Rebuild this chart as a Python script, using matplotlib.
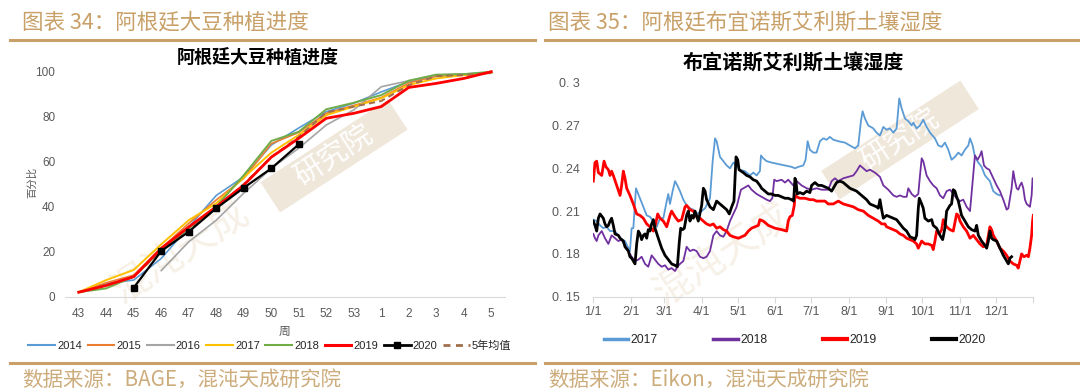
import numpy as np
import matplotlib
matplotlib.use("Agg")
import matplotlib.pyplot as plt
from matplotlib.lines import Line2D
from matplotlib.patches import Rectangle

plt.rcParams['font.family'] = ['Liberation Sans', 'Noto Sans CJK SC']

# ---------------- 左图：阿根廷大豆种植进度 (%) ----------------
weeks = ['43', '44', '45', '46', '47', '48', '49', '50', '51', '52', '53',
         '1', '2', '3', '4', '5']
nan = np.nan
p2014 = [2, 5.9, 7.4, 17, 31, 45, 53.3, 67.4, 75, 82.2, 86, 91, 95.6, 98, 99, 99.3]
p2015 = [2, 6.2, 9.6, 21.5, 32.6, 43, 52.6, 68, 73, 81.5, 85, 88.5, 95, 98, 98.5, 99.5]
p2016 = [nan, nan, nan, 11.6, 24.4, 34, 46, 57, 66, 76.3, 83, 93.3, 96, 98.5, 99, 99.5]
p2017 = [2, 7.4, 11.9, 23.3, 34, 41.5, 53, 64, 71.9, 80.7, 84.5, 88.2, 94.1, 97, 98.5, 99.5]
p2018 = [2, 3.7, 8.9, 20.7, 30.4, 40, 54, 69.2, 73.3, 83.3, 86.2, 89.6, 96, 98.7, 98.9, 100]
p2019 = [2, 5, 8.9, 21.5, 31, 40, 49.6, 62, 70.4, 79.3, 81.5, 84.5, 93, 94.8, 97, 100]
p2020 = [nan, nan, 4, 20.3, 28.9, 39.3, 48.4, 57, 67.7, nan, nan, nan, nan, nan, nan, nan]
p_avg = [2, 5.2, 8.9, 20.5, 29.5, 39.5, 50, 62, 71, 81.9, 84.5, 87, 94, 98, 98.5, 99.5]

# ---------------- 右图：布宜诺斯艾利斯土壤湿度 (day of year, value) ----------------
sm2017 = [(0, .204), (2.8, .203), (5.6, .200), (8.3, .198), (11.1, .199), (13.9, .196), (18, .196),
          (22.2, .191), (26.3, .189), (29.1, .184), (30.4, .182), (31.8, .198), (33.2, .198),
          (35.4, .226), (38.7, .219), (41.5, .213), (44.3, .207), (47, .206), (49.8, .203),
          (52.6, .199), (55.3, .205), (58.1, .205), (60.9, .217), (62.2, .222), (63.6, .215),
          (65.8, .224), (67.8, .231), (69.7, .228), (71.9, .224), (74.7, .218), (77.4, .214),
          (80.2, .212), (83, .211), (85.7, .208), (89.9, .210), (92.7, .212), (96.8, .219),
          (99, .245), (101, .261), (102.3, .259), (105.1, .248), (107.9, .245), (110.6, .242),
          (113.4, .240), (116.2, .244), (118.9, .242), (121.6, .239), (125.8, .238), (130, .235),
          (132.7, .237), (135.5, .235), (138.2, .238), (139.1, .249), (141, .247), (143.8, .245),
          (147.9, .244), (153.4, .243), (159, .242), (164.5, .241), (167.3, .240), (170, .241),
          (174.2, .242), (176.1, .246), (177.8, .259), (179.7, .253), (182.5, .251), (185.2, .251),
          (188, .259), (190.8, .261), (193.5, .260), (196.3, .262), (199.1, .260), (203.2, .259),
          (208.7, .258), (212.9, .256), (217, .254), (219.8, .256), (222, .273), (223.4, .280),
          (225.3, .275), (228.1, .270), (232.2, .268), (235, .265), (237.8, .263), (240.6, .269),
          (243.3, .267), (246.1, .268), (248.9, .265), (251.6, .268), (253.8, .289), (255.8, .282),
          (258.5, .275), (261.3, .273), (264.1, .270), (265.5, .272), (268.2, .268), (271, .270),
          (273.7, .274), (276.5, .269), (279.3, .265), (283.4, .261), (286.2, .256), (289, .255),
          (291.7, .258), (294.5, .253), (297.2, .246), (300, .248), (302.8, .251), (305.5, .249),
          (308.3, .253), (311.1, .256), (312.5, .261), (314.7, .256), (316.6, .248), (319.4, .244),
          (322.1, .241), (324.9, .235), (329, .231), (331.8, .224), (334.6, .222), (337.3, .221)]

sm2018 = [(0, .194), (1.4, .191), (2.8, .189), (4.2, .193), (7, .196), (9.7, .191), (12.5, .187),
          (15.2, .193), (18, .191), (20.8, .189), (23.5, .190), (26.3, .186), (29.1, .182),
          (31.8, .178), (34.6, .175), (37.4, .176), (40.1, .178), (42.9, .173), (45.6, .171),
          (48.4, .179), (51.2, .176), (53.9, .173), (56.7, .171), (59.5, .172), (62.2, .169),
          (65, .170), (67.8, .168), (69.7, .171), (71.9, .173), (74.7, .175), (77.4, .185),
          (80.2, .182), (83, .183), (85.7, .182), (88.5, .178), (91.3, .177), (94, .178),
          (96.8, .182), (99.6, .193), (102.3, .196), (105.1, .193), (107.9, .192), (110.6, .196),
          (113.4, .203), (116.2, .208), (118.9, .213), (122.5, .225), (128.6, .228), (131.3, .225),
          (135.5, .222), (139.6, .220), (143.8, .218), (146.5, .217), (148.5, .219), (150.1, .232),
          (152.1, .231), (156.2, .232), (159, .230), (161.7, .232), (165.9, .228), (168.7, .231),
          (172.8, .228), (177, .226), (181.1, .225), (185.2, .226), (189.4, .225), (194.9, .225),
          (197.7, .231), (200.5, .233), (203.2, .231), (207.4, .233), (211.5, .234), (215.7, .235),
          (218.4, .238), (221.2, .242), (224, .240), (226.7, .238), (229.5, .239), (233.6, .237),
          (237.8, .234), (240.6, .228), (244.7, .225), (248.9, .221), (251.6, .220), (254.4, .221),
          (257.2, .220), (259.9, .220), (261.3, .226), (264.1, .222), (266.8, .220), (269.6, .222),
          (271, .235), (272.4, .247), (273.7, .245), (276.5, .235), (279.3, .231), (282, .228),
          (284.8, .226), (287.6, .221), (290.3, .219), (293.1, .224), (295.9, .225), (298.6, .222),
          (301.4, .219), (304.2, .217), (306.9, .218), (309.7, .213), (312.5, .210), (314.7, .231),
          (316.6, .249), (318.8, .246), (320.8, .249), (322.1, .252), (324.1, .242), (326.3, .240),
          (328.5, .239), (331.8, .233), (334.6, .228), (337.3, .224), (340.1, .218), (342.9, .211),
          (344.3, .212), (347, .226), (348.4, .238), (349.8, .231), (351.2, .226), (352.5, .225),
          (353.9, .228), (355.3, .230), (356.7, .226), (358.1, .218), (359.5, .215), (362.2, .213),
          (363.6, .221), (364.4, .233), (365, .232)]

sm2019 = [(0, .231), (1.4, .244), (2.8, .245), (4.2, .237), (7, .235), (8.9, .245), (10.5, .241),
          (12.5, .239), (13.9, .235), (15.2, .238), (16.6, .235), (19.4, .228), (22.2, .221),
          (23.5, .228), (24.9, .238), (26.3, .233), (27.7, .226), (30.4, .221), (33.2, .215),
          (36, .208), (38.7, .207), (41.5, .205), (44.3, .201), (47, .199), (49.8, .196),
          (51.7, .201), (53.4, .208), (55.3, .205), (58.1, .203), (60.9, .199), (63.6, .207),
          (65, .210), (67.8, .206), (70.5, .203), (73.3, .204), (76.1, .213), (77.4, .214),
          (80.2, .211), (83, .210), (85.7, .206), (88.5, .205), (91.3, .203), (94, .201),
          (96.8, .200), (99.6, .201), (102.3, .198), (105.1, .199), (107.9, .197), (110.6, .196),
          (113.4, .193), (116.2, .192), (120.3, .191), (125.8, .193), (128.6, .196), (131.3, .198),
          (134.1, .199), (136.9, .200), (138.2, .204), (141, .203), (145.2, .200), (150.7, .198),
          (156.2, .197), (160.4, .196), (161.7, .203), (163.1, .206), (165.1, .207), (166.7, .214),
          (167.3, .221), (168.7, .220), (171.4, .219), (175.6, .219), (179.7, .218), (182.5, .218),
          (185.2, .217), (189.4, .217), (192.2, .217), (194.9, .215), (199.1, .215), (203.2, .217),
          (207.4, .215), (211.5, .214), (215.7, .213), (219.8, .211), (224, .210), (228.1, .207),
          (232.2, .205), (236.4, .203), (239.2, .201), (241.9, .201), (243.3, .199), (246.1, .198),
          (248.9, .197), (251.6, .196), (254.4, .194), (257.2, .193), (259.9, .191), (262.7, .190),
          (265.5, .189), (268.2, .187), (269.6, .184), (272.4, .189), (275.1, .187), (277.9, .187),
          (280.7, .186), (282, .183), (283.4, .189), (284.8, .196), (287, .194), (289, .197),
          (290.3, .204), (291.7, .201), (293.1, .199), (295.9, .197), (298.6, .196), (301.4, .208),
          (302.8, .207), (304.2, .203), (306.9, .199), (309.7, .196), (312.5, .191), (315.2, .193),
          (318, .190), (320.8, .187), (323.5, .185), (326.3, .186), (329, .199), (330.4, .197),
          (331.8, .193), (334.6, .189), (337.3, .184), (340.1, .182), (342.9, .179), (345.6, .175),
          (348.4, .173), (351.2, .172), (352.5, .170), (353.9, .175), (355.3, .180), (357.2, .178),
          (359.5, .179), (360.9, .178), (362.2, .184), (363.6, .193), (364.4, .203), (365, .207)]

sm2020 = [(0, .203), (1.4, .200), (2.8, .196), (4.2, .205), (5.6, .208), (8.3, .205), (9.7, .201),
          (11.1, .199), (12.5, .200), (13.9, .203), (15.2, .205), (16.6, .200), (18, .194),
          (20.8, .193), (22.2, .191), (24.9, .189), (26.3, .185), (29.1, .182), (30.4, .178),
          (31.8, .177), (33.2, .175), (34.6, .173), (36, .187), (37.4, .196), (38.7, .194),
          (40.1, .190), (41.5, .193), (42.9, .194), (44.3, .191), (45.6, .197), (47, .196),
          (48.4, .201), (49.8, .204), (51.2, .198), (53.9, .191), (56.7, .184), (59.5, .179),
          (62.2, .176), (65, .173), (67.8, .172), (69.7, .171), (71.4, .189), (72.5, .198),
          (74.1, .197), (75.5, .198), (77.4, .207), (78.8, .210), (80.2, .203), (81.6, .207),
          (83, .205), (84.4, .210), (87.1, .203), (89.9, .214), (91.3, .226), (92.7, .224),
          (94, .218), (96.8, .213), (99.6, .211), (102.3, .217), (105.1, .215), (107.9, .213),
          (110.6, .211), (112.8, .208), (114.8, .213), (116.7, .217), (118.4, .248), (119.8, .246),
          (120.9, .239), (124.4, .237), (127.2, .235), (130, .234), (132.7, .232), (135.5, .231),
          (138.2, .228), (139.6, .226), (141, .225), (142.4, .224), (145.2, .222), (147.9, .222),
          (150.7, .221), (153.4, .221), (156.2, .220), (159, .219), (161.7, .219), (164.5, .218),
          (166.2, .217), (167.3, .233), (168.1, .231), (169.2, .222), (171.4, .223), (174.2, .222),
          (177, .224), (179.7, .223), (181.1, .228), (183.9, .230), (186.6, .228), (189.4, .228),
          (192.2, .227), (194.9, .226), (197.7, .224), (200.5, .228), (201.8, .230), (204.6, .231),
          (207.4, .230), (210.1, .228), (212.9, .226), (215.7, .225), (218.4, .224), (221.2, .222),
          (224, .220), (226.7, .218), (229.5, .215), (232.2, .214), (235, .213), (236.4, .212),
          (237.8, .218), (239.2, .211), (240.6, .205), (243.3, .207), (246.1, .206), (248.9, .205),
          (251.6, .204), (254.4, .201), (257.2, .198), (259.9, .196), (262.7, .192), (265.5, .191),
          (266.8, .190), (268.2, .193), (269.6, .212), (270.4, .219), (272.4, .215), (273.7, .212),
          (275.1, .205), (277.9, .203), (280.7, .204), (282, .200), (284.8, .198), (287.6, .193),
          (289.8, .190), (291.7, .198), (293.1, .210), (294.5, .212), (295.9, .214), (297.2, .215),
          (298.6, .225), (300, .224), (301.4, .220), (302.8, .217), (305.5, .207), (308.3, .203),
          (311.1, .199), (313.8, .197), (316.6, .196), (318, .200), (319.4, .193), (322.1, .189),
          (324.9, .186), (326.3, .184), (327.7, .189), (329, .196), (330.4, .191), (331.8, .190),
          (334.6, .189), (337.3, .184), (340.1, .179), (342.9, .175), (344.3, .173), (345.6, .177),
          (347, .178)]

month_days = [0, 31, 59, 90, 120, 151, 181, 212, 243, 273, 304, 334]
month_labels = ['1/1', '2/1', '3/1', '4/1', '5/1', '6/1', '7/1', '8/1', '9/1', '10/1', '11/1', '12/1']
sm_yticks = [0.15, 0.18, 0.21, 0.24, 0.27, 0.30]
sm_ylabels = ['0. 15', '0. 18', '0. 21', '0. 24', '0. 27', '0. 3']

# ---------------- figure ----------------
W, H = 1080, 392
def fx(px):
    return px / W
def fy(py):
    return 1 - py / H

gold = '#C8A068'
gold_light = '#CDAC7C'
tick_c = '#595959'
cjk = ['Noto Sans CJK SC', 'DejaVu Sans']

fig = plt.figure(figsize=(10.8, 3.92), dpi=100)

# 水印
for cx, cy, ang, L, Wd in [(334, 156, 33, 152, 36), (900, 140, 33, 166, 34)]:
    fig.add_artist(Rectangle(((cx - L / 2) / 100, (H - cy - Wd / 2) / 100), L / 100, Wd / 100,
                             angle=ang, rotation_point='center', transform=fig.dpi_scale_trans,
                             facecolor='#F0E7DB', edgecolor='none', zorder=-2))
    fig.text(fx(cx), fy(cy), '研究院', rotation=ang, color='white', fontsize=21,
             ha='center', va='center', rotation_mode='anchor', family=cjk, zorder=-1)
for cx, cy in [(180, 252), (722, 255)]:
    fig.text(fx(cx), fy(cy), '混沌天成', rotation=33, color='#F6F0E7', fontsize=28,
             ha='center', va='center', rotation_mode='anchor', family=cjk, zorder=-1)

# 顶部/底部 金色分隔线
for x0, x1 in [(10, 535), (545, 1080)]:
    fig.add_artist(Line2D([fx(x0), fx(x1)], [fy(40), fy(40)], color=gold, lw=2.2))
    fig.add_artist(Line2D([fx(x0), fx(x1)], [fy(363), fy(363)], color=gold, lw=2.2))

fig.text(fx(22), fy(22), '图表 34：阿根廷大豆种植进度', color=gold, fontsize=15.5,
         va='center', ha='left', family=cjk)
fig.text(fx(548), fy(22), '图表 35：阿根廷布宜诺斯艾利斯土壤湿度', color=gold, fontsize=15.5,
         va='center', ha='left', family=cjk)
fig.text(fx(22), fy(380), '数据来源：BAGE，混沌天成研究院', color=gold_light, fontsize=14.8,
         va='center', ha='left', family=cjk)
fig.text(fx(548), fy(380), '数据来源：Eikon，混沌天成研究院', color=gold_light, fontsize=14.8,
         va='center', ha='left', family=cjk)

# ---------- 左图 ----------
ax1 = fig.add_axes([fx(65), 95.3 / H, 440 / W, 225 / H])
ax1.patch.set_alpha(0)
x = np.arange(len(weeks))
left_series = [
    (p2014, '2014', '#5B9BD5', 1.2, '-'),
    (p2015, '2015', '#ED7D31', 1.2, '-'),
    (p2016, '2016', '#A5A5A5', 1.2, '-'),
    (p2017, '2017', '#FFC000', 1.4, '-'),
    (p2018, '2018', '#70AD47', 1.4, '-'),
    (p_avg, '5年均值', '#A0704E', 1.5, (0, (3, 2))),
    (p2019, '2019', '#FF0000', 2.0, '-'),
]
for vals, lab, col, lw, ls in left_series:
    ax1.plot(x, vals, color=col, lw=lw, ls=ls, clip_on=False)
ax1.plot(x, p2020, color='black', lw=1.6, marker='s', markersize=4.5, clip_on=False)

ax1.set_xlim(-0.5, 15.5)
ax1.set_ylim(0, 100)
ax1.set_yticks([0, 20, 40, 60, 80, 100])
ax1.set_xticks(x)
ax1.set_xticklabels(weeks)
for s in ['top', 'right', 'left']:
    ax1.spines[s].set_visible(False)
ax1.spines['bottom'].set_color('#D9D9D9')
ax1.tick_params(axis='both', length=0, labelsize=8.5, labelcolor=tick_c)
ax1.tick_params(axis='y', pad=7)
ax1.tick_params(axis='x', pad=8)
ax1.set_xlabel('周', fontsize=8.5, color=tick_c, labelpad=4, family=cjk)
fig.text(fx(32), fy(182), '百分比', rotation=90, fontsize=7.5, color=tick_c,
         ha='center', va='center', family=cjk)
ax1.set_title('阿根廷大豆种植进度', fontsize=13, fontweight='bold', family=cjk, pad=6)
ax1.title.set_position((0.437, 1.0))

lh = [Line2D([], [], color='#5B9BD5', lw=1.5), Line2D([], [], color='#ED7D31', lw=1.5),
      Line2D([], [], color='#A5A5A5', lw=1.5), Line2D([], [], color='#FFC000', lw=1.5),
      Line2D([], [], color='#70AD47', lw=1.5), Line2D([], [], color='#FF0000', lw=2.2),
      Line2D([], [], color='black', lw=2, marker='s', markersize=4),
      Line2D([], [], color='#A0704E', lw=2, ls=(0, (2.5, 2)))]
ll = ['2014', '2015', '2016', '2017', '2018', '2019', '2020', '5年均值']
fig.legend(lh, ll, loc='center', bbox_to_anchor=(fx(270), fy(346)), ncol=8, frameon=False,
           fontsize=8, handlelength=2.4, handletextpad=0.2, columnspacing=0.5,
           labelcolor='#262626')

# ---------- 右图 ----------
ax2 = fig.add_axes([fx(593.3), 95.3 / H, 440 / W, 214 / H])
ax2.patch.set_alpha(0)
right_series = [
    (sm2017, '#5B9BD5', 1.3),
    (sm2018, '#7030A0', 1.3),
    (sm2019, '#FF0000', 2.0),
    (sm2020, '#000000', 2.0),
]
for pairs, col, lw in right_series:
    d, v = zip(*pairs)
    ax2.plot(d, v, color=col, lw=lw)

ax2.set_xlim(0, 365)
ax2.set_ylim(0.15, 0.30)
ax2.set_yticks(sm_yticks)
ax2.set_yticklabels(sm_ylabels)
ax2.set_xticks(month_days + [365])
ax2.set_xticklabels(month_labels + [''])
for s in ['top', 'right', 'left']:
    ax2.spines[s].set_visible(False)
ax2.spines['bottom'].set_color('#D9D9D9')
ax2.tick_params(axis='y', length=0, labelsize=9, labelcolor=tick_c, pad=10)
ax2.tick_params(axis='x', length=4, color='#D9D9D9', labelsize=9, labelcolor=tick_c, pad=3)
fig.text(fx(793), fy(63), '布宜诺斯艾利斯土壤湿度', fontsize=14.5, fontweight='bold',
         ha='center', va='center', family=cjk)

rh = [Line2D([], [], color='#5B9BD5', lw=2.5), Line2D([], [], color='#7030A0', lw=2.5),
      Line2D([], [], color='#FF0000', lw=3), Line2D([], [], color='black', lw=3)]
fig.legend(rh, ['2017', '2018', '2019', '2020'], loc='center', bbox_to_anchor=(fx(795), fy(340)),
           ncol=4, frameon=False, fontsize=8.7, handlelength=2.0, handletextpad=0.2,
           columnspacing=4.6, labelcolor='#262626')

fig.savefig('out.png', dpi=100)
